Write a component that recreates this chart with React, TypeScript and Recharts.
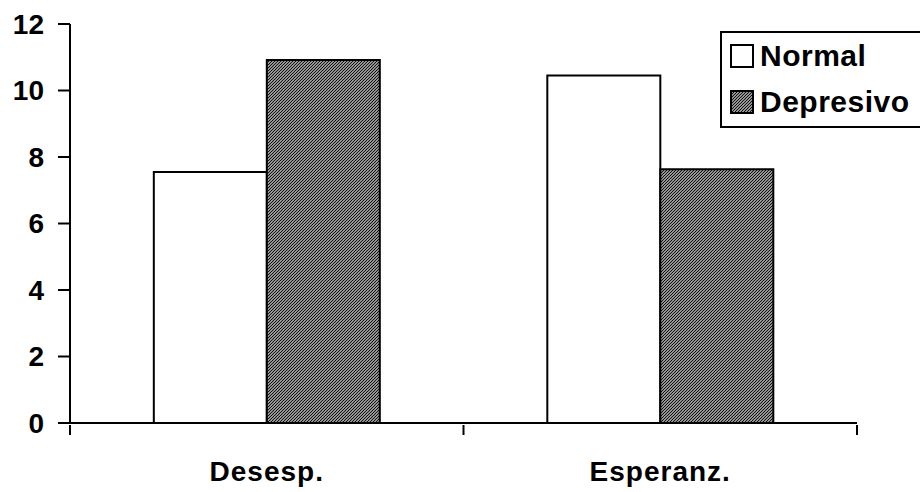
import { Bar, BarChart, XAxis, YAxis } from "recharts";

const CATEGORIES = ["Desesp.", "Esperanz."];
const NORMAL = [7.55, 10.45];
const DEPRESIVO = [10.92, 7.63];
const Y_TICKS = [0, 2, 4, 6, 8, 10, 12];
const SERIES = [
  { key: "Normal", fill: "#fff" },
  { key: "Depresivo", fill: "url(#hatch)" },
];

const data = CATEGORIES.map((name, i) => ({
  name,
  Normal: NORMAL[i],
  Depresivo: DEPRESIVO[i],
}));

const FONT = '"Liberation Sans", Arial, Helvetica, sans-serif';

// category label plus the boundary tick marks (Excel style)
function CategoryTick(props: any) {
  const { x, y, payload, index, visibleTicksCount } = props;
  const half = payload?.offset ?? 0;
  const last = index === (visibleTicksCount ?? 2) - 1;
  return (
    <g>
      <line x1={x - half} x2={x - half} y1={y} y2={y + 10} stroke="#000" strokeWidth={2} />
      {last && (
        <line x1={x + half} x2={x + half} y1={y} y2={y + 10} stroke="#000" strokeWidth={2} />
      )}
      <text
        x={x}
        y={y + 36}
        dy="0.71em"
        textAnchor="middle"
        fill="#000"
        fontSize={28}
        fontWeight={700}
        fontFamily={FONT}
        letterSpacing={1}
      >
        {payload.value}
      </text>
    </g>
  );
}

function LegendBox() {
  return (
    <div
      style={{
        position: "absolute",
        left: 720,
        top: 31,
        border: "2px solid #000",
        width: 210,
        height: 97,
        boxSizing: "border-box",
        padding: "0 0 0 8px",
        background: "#fff",
        fontFamily: FONT,
      }}
    >
      {SERIES.map((s) => (
        <div key={s.key} style={{ display: "flex", alignItems: "center", height: 46 }}>
          <svg width={24} height={24} style={{ marginRight: 6 }}>
            <rect x={1} y={1} width={22} height={22} fill={s.fill} stroke="#000" strokeWidth={2} />
          </svg>
          <span style={{ fontSize: 30, fontWeight: 700, color: "#000", letterSpacing: 0.5 }}>
            {s.key}
          </span>
        </div>
      ))}
    </div>
  );
}

export default function App() {
  return (
    <div
      style={{
        position: "absolute",
        left: 0,
        top: 0,
        width: 920,
        height: 492,
        overflow: "hidden",
        background: "#fff",
        fontFamily: FONT,
      }}
    >
      <svg width={0} height={0} style={{ position: "absolute" }}>
        <defs>
          <pattern id="hatch" patternUnits="userSpaceOnUse" width={3} height={3}>
            <rect width={3} height={3} fill="#fff" />
            <path d="M-1,1 L1,-1 M0,3 L3,0 M2,4 L4,2" stroke="#111" strokeWidth={1.3} />
          </pattern>
        </defs>
      </svg>
      <BarChart
        width={920}
        height={492}
        data={data}
        margin={{ top: 24, right: 63, left: 0, bottom: 0 }}
        barCategoryGap="21.3%"
        barGap={0}
      >
        <XAxis
          dataKey="name"
          height={69}
          axisLine={{ stroke: "#000", strokeWidth: 2 }}
          tickLine={false}
          tickSize={0}
          tick={<CategoryTick />}
          interval={0}
        />
        <YAxis
          domain={[0, 12]}
          ticks={Y_TICKS}
          width={70}
          tickSize={12}
          tickMargin={14}
          axisLine={{ stroke: "#000", strokeWidth: 2 }}
          tickLine={{ stroke: "#000", strokeWidth: 2 }}
          tick={{ fill: "#000", fontSize: 28, fontWeight: 700, fontFamily: FONT }}
        />
        {SERIES.map((s) => (
          <Bar
            key={s.key}
            dataKey={s.key}
            fill={s.fill}
            stroke="#000"
            strokeWidth={2}
            isAnimationActive={false}
          />
        ))}
      </BarChart>
      <LegendBox />
    </div>
  );
}
